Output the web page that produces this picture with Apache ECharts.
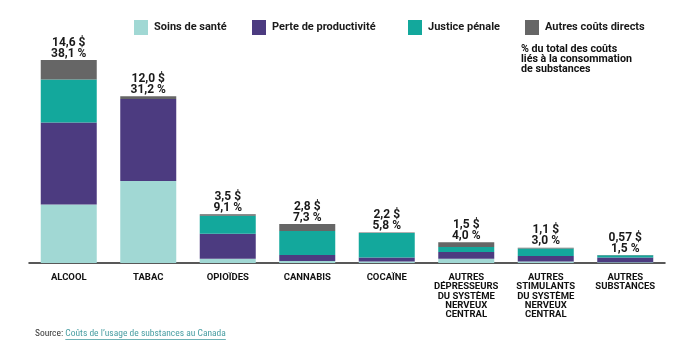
<!DOCTYPE html>
<html>
<head>
<meta charset="utf-8">
<script src="https://cdn.jsdelivr.net/npm/echarts@6/dist/echarts.min.js"></script>
<style>
html,body{margin:0;padding:0;background:#fff;}
#chart{width:694px;height:359px;}
</style>
</head>
<body>
<div id="chart"></div>
<script>
var categories = ['ALCOOL','TABAC','OPIOÏDES','CANNABIS','COCAÏNE',
  'AUTRES\nDÉPRESSEURS\nDU SYSTÈME\nNERVEUX\nCENTRAL',
  'AUTRES\nSTIMULANTS\nDU SYSTÈME\nNERVEUX\nCENTRAL',
  'AUTRES\nSUBSTANCES'];
var seriesNames = ['Soins de santé','Perte de productivité','Justice pénale','Autres coûts directs'];
var soinsSante = [4.2, 5.9, 0.3, 0.15, 0.1, 0.3, 0.1, 0.05];
var perteProductivite = [5.9, 5.9, 1.8, 0.43, 0.3, 0.5, 0.4, 0.35];
var justicePenale = [3.1, 0, 1.3, 1.72, 1.75, 0.35, 0.55, 0.15];
var autresCouts = [1.4, 0.2, 0.1, 0.5, 0.05, 0.35, 0.05, 0.02];
var totalLabels = ['14,6 $','12,0 $','3,5 $','2,8 $','2,2 $','1,5 $','1,1 $','0,57 $'];
var pctLabels = ['38,1 %','31,2 %','9,1 %','7,3 %','5,8 %','4,0 %','3,0 %','1,5 %'];
var colors = ['#a1d8d4','#4c3b80','#13a89c','#666666'];

var FONT = 'Roboto';
var COND = 'Roboto Condensed';
var chart = echarts.init(document.getElementById('chart'));

var dataSets = [soinsSante, perteProductivite, justicePenale, autresCouts];
var series = dataSets.map(function(d, i){
  var s = {
    name: seriesNames[i], type: 'bar', stack: 'total', data: d,
    barWidth: 56, itemStyle: {color: colors[i]}
  };
  if (i === 3) {
    s.label = {
      show: true, position: 'top', distance: 1,
      fontFamily: FONT, fontWeight: 'bold', fontSize: 12, lineHeight: 11,
      color: '#1a1a1a', align: 'center',
      formatter: function(p){ return totalLabels[p.dataIndex] + '\n' + pctLabels[p.dataIndex]; }
    };
  }
  return s;
});

var legendLefts = [129, 247, 403, 520];
var legends = seriesNames.map(function(n, i){
  return {
    data: [n], left: legendLefts[i], top: 15, icon: 'rect',
    itemWidth: 14, itemHeight: 15, selectedMode: false,
    textStyle: {fontFamily: FONT, fontWeight: 'bold', fontSize: 11, color: '#1a1a1a', padding: [0,0,0,1]}
  };
});

// measure source text for underline
var srcFont = '9.5px "' + COND + '"';
var ctx = document.createElement('canvas').getContext('2d');
ctx.font = srcFont;
var srcPrefix = 'Source: ';
var srcLink = 'Coûts de l\u2019usage de substances au Canada';
var wPrefix = ctx.measureText(srcPrefix).width;
var wLink = ctx.measureText(srcLink).width;

chart.setOption({
  animation: false,
  color: colors,
  legend: legends,
  grid: {left: 29, right: 29, top: 40.6, bottom: 96, containLabel: false},
  xAxis: {
    type: 'category', data: categories,
    axisLine: {show: true, lineStyle: {color: '#222', width: 1.5}},
    axisTick: {show: false},
    axisLabel: {interval: 0, margin: 10, fontFamily: FONT, fontWeight: 'bold', fontSize: 9.5, lineHeight: 9.3, color: '#111', align: 'center', verticalAlign: 'top'}
  },
  yAxis: {type: 'value', min: 0, max: 16, show: false, splitLine: {show: false}},
  series: series,
  graphic: [
    {type: 'text', left: 521, top: 44, style: {
      text: '% du total des coûts\nliés à la consommation\nde substances',
      font: 'bold 10.7px ' + FONT, lineHeight: 10, fill: '#111'}},
    {type: 'text', left: 35, top: 329, style: {text: srcPrefix, font: srcFont, fill: '#333'}},
    {type: 'text', left: 35 + wPrefix, top: 329, style: {text: srcLink, font: srcFont, fill: '#4a9ea3'}},
    {type: 'line', shape: {x1: 35 + wPrefix, y1: 339.5, x2: 35 + wPrefix + wLink, y2: 339.5}, style: {stroke: '#4a9ea3', lineWidth: 0.8}}
  ]
});
</script>
</body>
</html>
